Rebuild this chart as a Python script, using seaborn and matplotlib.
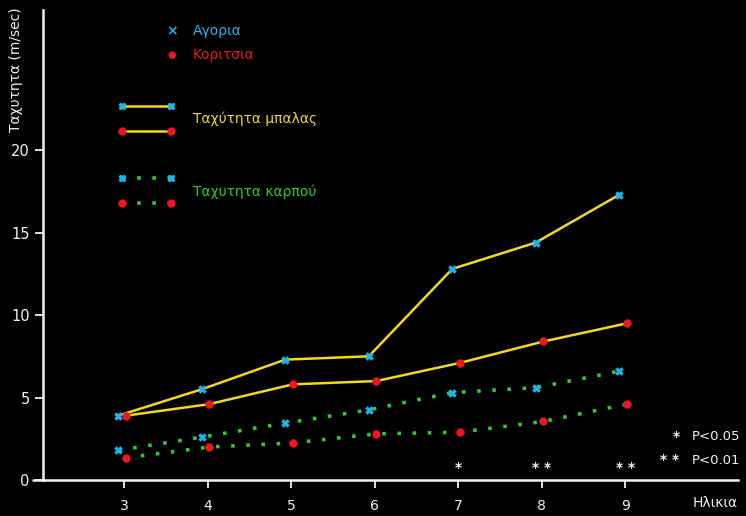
import pandas as pd
import matplotlib.pyplot as plt
import seaborn as sns
import numpy as np

# data
ages = [3, 4, 5, 6, 7, 8, 9]
ball_boys = [3.9, 5.5, 7.3, 7.5, 12.8, 14.4, 17.3]
ball_girls = [3.9, 4.6, 5.8, 6.0, 7.1, 8.4, 9.5]
wrist_boys = [1.8, 2.6, 3.45, 4.25, 5.3, 5.6, 6.6]
wrist_girls = [1.35, 2.0, 2.25, 2.8, 2.9, 3.55, 4.6]
signif = ['', '', '', '', '*', '**', '**']
y_ticks = [0, 5, 10, 15, 20]

CYAN = '#22b4e8'
RED = '#ee1620'
YELLOW = '#f2d820'
GREEN = '#2ccc2c'
WHITE = '#f2f2f2'
DOTS = (0, (1.0, 3.2))

sns.set_style("dark", {"axes.facecolor": "black", "figure.facecolor": "black"})
plt.rcParams['font.family'] = ['DejaVu Sans']

fig = plt.figure(figsize=(7.46, 5.16), dpi=100)
ax = fig.add_axes([43 / 746, 1 - 480 / 516, (738 - 43) / 746, 470 / 516])
ax.set_facecolor('black')

series = [
    (ball_boys, YELLOW, '-', CYAN, 'X', -0.07),
    (ball_girls, YELLOW, '-', RED, 'o', 0.02),
    (wrist_boys, GREEN, DOTS, CYAN, 'X', -0.07),
    (wrist_girls, GREEN, DOTS, RED, 'o', 0.02),
]
for vals, lc, ls, mc, mk, dx in series:
    xs = np.array(ages) + dx
    lw = 1.8 if ls == '-' else 2.6
    sns.lineplot(x=xs, y=vals, ax=ax, color=lc, linestyle=ls, linewidth=lw)
    sns.scatterplot(x=xs, y=vals, ax=ax, color=mc, marker=mk, s=30,
                    edgecolor=mc, linewidth=0.5, zorder=5)

ax.set_xlim(2.03, 10.35)
ax.set_ylim(0, 28.5)
ax.set_xticks(ages)
ax.set_xticklabels([str(a) for a in ages])
ax.set_yticks(y_ticks)
ax.set_yticklabels([str(t) for t in y_ticks])
ax.grid(False)
for s in ['top', 'right']:
    ax.spines[s].set_visible(False)
for s in ['left', 'bottom']:
    ax.spines[s].set_visible(True)
    ax.spines[s].set_color(WHITE)
    ax.spines[s].set_linewidth(1.8)
ax.tick_params(colors=WHITE, labelsize=10.5, length=6, width=1.3,
               direction='out', bottom=True, left=True)
ax.tick_params(axis='x', pad=8, labelsize=10)
# x axis runs a little past the y axis, as in the original
fig.add_artist(plt.Line2D([33 / 746, 44 / 746], [1 - 480 / 516] * 2,
                          color=WHITE, linewidth=1.8))

for a, s in zip(ages, signif):
    if s:
        ax.text(a, 0.3, ' '.join(s), color=WHITE, ha='center', va='bottom',
                fontsize=10, fontweight='bold')

# legend drawn as text, like the original figure
fig.text(172 / 746, 1 - 31 / 516, '×', color=CYAN, ha='center', va='center',
         fontsize=10, fontweight='bold')
fig.text(193 / 746, 1 - 31 / 516, 'Αγορια', color=CYAN, va='center', fontsize=10)
fig.text(172 / 746, 1 - 55 / 516, '●', color=RED, ha='center', va='center', fontsize=7)
fig.text(193 / 746, 1 - 55 / 516, 'Κοριτσια', color=RED, va='center', fontsize=10)

leg_rows = [(106, YELLOW, '-', CYAN, 'X'), (131, YELLOW, '-', RED, 'o'),
            (178, GREEN, DOTS, CYAN, 'X'), (203, GREEN, DOTS, RED, 'o')]
for yy, lc, ls, mc, mk in leg_rows:
    y = 1 - yy / 516
    fig.add_artist(plt.Line2D([122 / 746, 171 / 746], [y, y], color=lc,
                              linestyle=ls, linewidth=1.8 if ls == '-' else 2.6))
    fig.add_artist(plt.Line2D([122 / 746, 171 / 746], [y, y], color=mc, linestyle='none',
                              marker=mk, markersize=5))
fig.text(193 / 746, 1 - 119 / 516, 'Ταχύτητα μπαλας', color=YELLOW, va='center', fontsize=10)
fig.text(193 / 746, 1 - 192 / 516, 'Ταχυτητα καρπού', color=GREEN, va='center', fontsize=10)

fig.text(16 / 746, 1 - 70 / 516, 'Ταχυτητα (m/sec)', color=WHITE, rotation=90,
         ha='center', va='center', fontsize=10)
fig.text(738 / 746, 1 - 503 / 516, 'Ηλικια', color=WHITE, ha='right', va='center',
         fontsize=10)
fig.text(676 / 746, 1 - 437 / 516, '*', color=WHITE, ha='center', va='center',
         fontsize=10, fontweight='bold')
fig.text(692 / 746, 1 - 437 / 516, 'P<0.05', color=WHITE, va='center', fontsize=9.5)
fig.text(670 / 746, 1 - 460 / 516, '* *', color=WHITE, ha='center', va='center',
         fontsize=10, fontweight='bold')
fig.text(692 / 746, 1 - 460 / 516, 'P<0.01', color=WHITE, va='center', fontsize=9.5)

fig.savefig('out.png', dpi=100, facecolor='black')
